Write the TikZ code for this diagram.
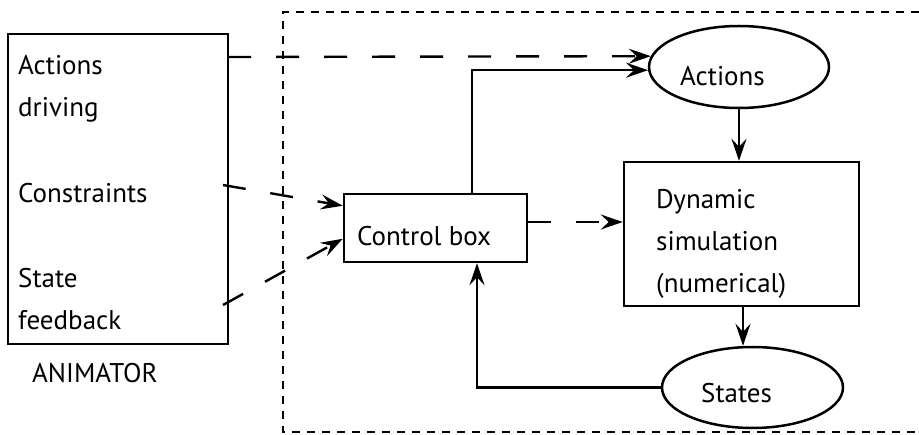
\documentclass[tikz,border=0pt]{standalone}
\usepackage{fontspec}
\setmainfont{PT Sans}
\usetikzlibrary{arrows.meta,shapes.geometric}
\begin{document}
\begin{tikzpicture}[x=1pt,y=-1pt,
  box/.style={draw,line width=2.5pt,rectangle,inner sep=0pt},
  oval/.style={draw,line width=2.5pt,ellipse,inner sep=0pt},
  txt/.style={anchor=base west,inner sep=0pt,font=\fontsize{27}{30}\selectfont},
  tip/.style={-{Stealth[length=22pt,width=15pt,inset=8pt]}},
  conn/.style={line width=2.3pt},
  longdash/.style={line width=2.4pt,dash pattern=on 23pt off 25pt},
  framedash/.style={line width=2.3pt,dash pattern=on 8pt off 7pt}]
\useasboundingbox (0,0) rectangle (919,435);
% outer dashed frame
\draw[framedash] (919,12) -- (283,12) -- (283,432) -- (919,432);
% shapes
\node[box,minimum width=220pt,minimum height=310pt] (anim) at (118,189) {};
\node[box,minimum width=183pt,minimum height=68pt] (ctl) at (435.5,228) {};
\node[box,minimum width=235pt,minimum height=144pt] (dyn) at (741.5,234) {};
\node[oval,minimum width=180pt,minimum height=82pt] (act) at (739,67) {};
\node[oval,minimum width=181pt,minimum height=81pt] (sts) at (752.5,387.5) {};
% texts
\node[txt] (t1) at (18,75) {Actions};
\node[txt] (t2) at (18,117) {driving};
\node[txt] (t3) at (18,203) {Constraints};
\node[txt] (t4) at (18,288) {State};
\node[txt] (t5) at (18,330) {feedback};
\node[txt] (t6) at (32,383) {ANIMATOR};
\node[txt] (t7) at (357,246) {Control box};
\node[txt] (t8) at (680,86) {Actions};
\node[txt] (t9) at (656,209) {Dynamic};
\node[txt] (t10) at (656,251) {simulation};
\node[txt] (t11) at (656,293) {(numerical)};
\node[txt] (t12) at (701,403) {States};
% connector start points
\coordinate (s1) at (228,57);
\coordinate (s2) at (223,185);
\coordinate (s3) at (223,305);
% connectors
\draw[longdash,tip] (s1) -- (act.173.5);
\draw[conn,tip] ([xshift=36.5pt]ctl.north) |- (act.182.6);
\draw[longdash,tip] (s2) -- ([yshift=-13pt]ctl.north west);
\draw[longdash,tip] (s3) -- ([yshift=-46pt]ctl.north west);
\draw[longdash,tip] ([yshift=6pt]ctl.east) -- ([yshift=6pt]ctl.east -| dyn.west);
\draw[conn,tip] (act.south) -- (act.south |- dyn.north);
\draw[conn,tip] ([xshift=1.5pt]dyn.south) -- ([xshift=1.5pt]dyn.south |- sts.north);
\draw[conn,tip] (sts.west) -| ([xshift=41.5pt]ctl.south);
\end{tikzpicture}
\end{document}
